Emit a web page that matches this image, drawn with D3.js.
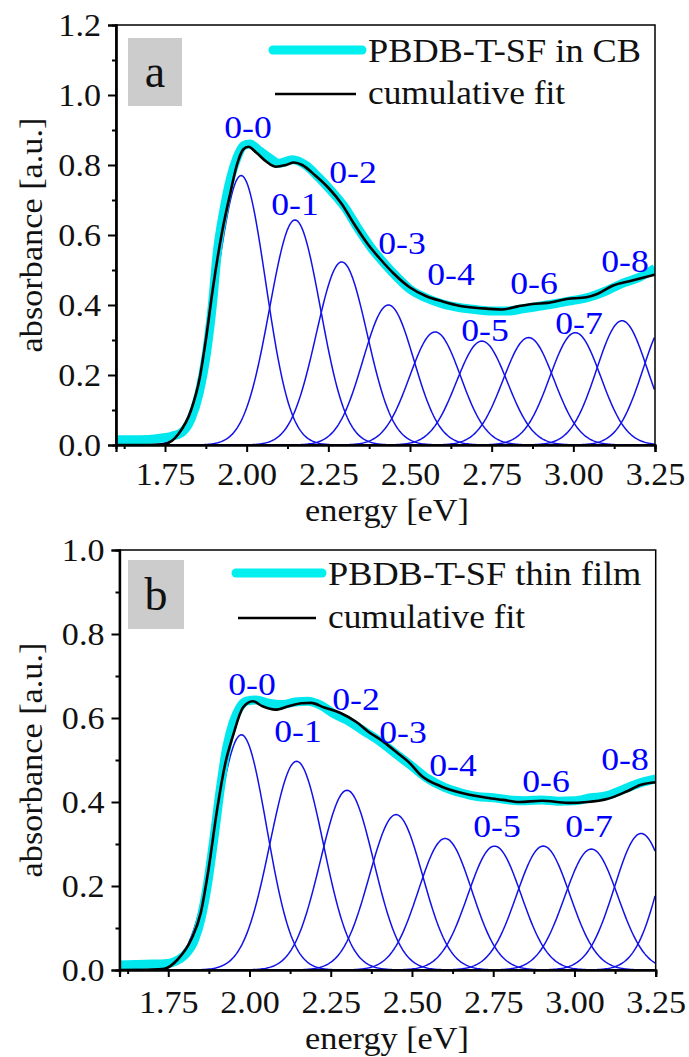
<!DOCTYPE html>
<html>
<head>
<meta charset="utf-8">
<script src="https://d3js.org/d3.v7.min.js"></script>
<style>
  body { margin: 0; background: #fff; }
</style>
</head>
<body>
<script>
// ---- data ----
var energyTicks = [1.75, 2.00, 2.25, 2.50, 2.75, 3.00, 3.25];
var energyMinor = [1.625, 1.875, 2.125, 2.375, 2.625, 2.875, 3.125];
var ticksA = [0, 0.2, 0.4, 0.6, 0.8, 1.0, 1.2];
var minorA = [0.1, 0.3, 0.5, 0.7, 0.9, 1.1];
var ticksB = [0, 0.2, 0.4, 0.6, 0.8, 1.0];
var minorB = [0.1, 0.3, 0.5, 0.7, 0.9];

// panel a: PBDB-T-SF in CB (energy, absorbance)
var cbData = [[1.60,.015],[1.65,.015],[1.70,.016],[1.74,.02],[1.77,.025],[1.80,.035],[1.83,.075],[1.855,.15],[1.875,.25],[1.895,.40],[1.91,.55],[1.93,.67],[1.95,.76],[1.97,.82],[1.99,.855],[2.01,.86],[2.04,.84],[2.07,.82],[2.10,.805],[2.14,.815],[2.18,.80],[2.22,.765],[2.26,.725],[2.30,.68],[2.34,.62],[2.38,.565],[2.42,.52],[2.46,.48],[2.50,.445],[2.55,.42],[2.60,.403],[2.65,.393],[2.70,.387],[2.75,.383],[2.80,.383],[2.85,.39],[2.90,.397],[2.95,.405],[3.00,.413],[3.05,.423],[3.10,.44],[3.15,.462],[3.20,.478],[3.25,.505]];
var cbFit = [[1.60,0],[1.70,0],[1.745,.002],[1.79,.03],[1.83,.10],[1.856,.19],[1.875,.30],[1.897,.45],[1.925,.61],[1.95,.72],[1.97,.80],[1.99,.845],[2.005,.852],[2.03,.835],[2.06,.81],[2.09,.795],[2.12,.80],[2.145,.807],[2.17,.80],[2.21,.77],[2.25,.735],[2.29,.69],[2.33,.63],[2.37,.575],[2.41,.53],[2.45,.49],[2.50,.45],[2.55,.425],[2.60,.41],[2.65,.398],[2.70,.392],[2.745,.389],[2.78,.387],[2.83,.396],[2.875,.403],[2.92,.406],[2.98,.417],[3.04,.422],[3.075,.432],[3.12,.455],[3.18,.47],[3.25,.487]];
// vibronic components a: centre [eV], height, width (sigma)
var cbCentre = [1.983, 2.148, 2.291, 2.434, 2.577, 2.720, 2.863, 3.006, 3.149, 3.292];
var cbHeight = [0.77, 0.643, 0.523, 0.40, 0.323, 0.297, 0.307, 0.321, 0.355, 0.36];
var cbSigma  = [0.075, 0.078, 0.078, 0.078, 0.078, 0.078, 0.078, 0.078, 0.078, 0.078];
var cbLabels = [["0-0",248,138],["0-1",295,215],["0-2",353,183],["0-3",402,254],["0-4",451,285],["0-5",485,341],["0-6",534,294],["0-7",579,334],["0-8",625,272]];

// panel b: PBDB-T-SF thin film
var filmData = [[1.60,.012],[1.65,.013],[1.70,.014],[1.74,.015],[1.77,.02],[1.80,.035],[1.83,.07],[1.85,.12],[1.87,.2],[1.89,.31],[1.91,.43],[1.93,.53],[1.95,.59],[1.97,.625],[1.99,.64],[2.02,.643],[2.06,.635],[2.10,.632],[2.14,.638],[2.18,.64],[2.22,.63],[2.26,.61],[2.30,.595],[2.35,.57],[2.40,.545],[2.45,.515],[2.50,.485],[2.55,.455],[2.60,.435],[2.65,.422],[2.70,.413],[2.75,.41],[2.80,.405],[2.85,.403],[2.90,.405],[2.95,.402],[3.00,.403],[3.05,.41],[3.10,.415],[3.15,.43],[3.20,.445],[3.25,.455]];
var filmFit = [[1.60,0],[1.70,.001],[1.738,.003],[1.779,.025],[1.821,.073],[1.85,.136],[1.874,.24],[1.90,.38],[1.925,.49],[1.95,.56],[1.98,.625],[2.01,.64],[2.04,.628],[2.08,.62],[2.12,.628],[2.16,.635],[2.19,.636],[2.23,.625],[2.28,.612],[2.33,.59],[2.37,.565],[2.41,.545],[2.45,.52],[2.49,.495],[2.53,.462],[2.59,.437],[2.66,.42],[2.73,.41],[2.78,.405],[2.83,.40],[2.90,.403],[2.98,.398],[3.04,.40],[3.10,.407],[3.16,.425],[3.205,.441],[3.25,.447]];
var filmCentre = [1.975, 2.145, 2.300, 2.451, 2.602, 2.754, 2.904, 3.052, 3.205, 3.356];
var filmHeight = [0.56, 0.497, 0.428, 0.37, 0.313, 0.295, 0.295, 0.288, 0.325, 0.42];
var filmSigma  = [0.078, 0.082, 0.082, 0.082, 0.082, 0.082, 0.082, 0.082, 0.082, 0.082];
var filmLabels = [["0-0",252,695],["0-1",298,742],["0-2",356,710],["0-3",403,743],["0-4",453,776],["0-5",497,837],["0-6",546,792],["0-7",589,837],["0-8",625,770]];

var FONT = "'Liberation Serif', serif";
var W = 689, H = 1057;
var svg = d3.select("body").append("svg").attr("width", W).attr("height", H);
svg.append("rect").attr("width", W).attr("height", H).attr("fill", "#fff");

// the original figure is a bit wider than plain Times, widen the text a bit
function stretch(sel, k) {
  sel.each(function() {
    var w = this.getComputedTextLength();
    d3.select(this).attr("textLength", w * k).attr("lengthAdjust", "spacingAndGlyphs");
  });
}

var panels = [
  {id: "a", top: 25, bottom: 445, left: 116, right: 655, ymax: 1.2, ticks: ticksA, minor: minorA,
   data: cbData, fit: cbFit, centre: cbCentre, height: cbHeight, sigma: cbSigma, labels: cbLabels,
   name: "PBDB-T-SF in CB", box: [128, 38, 54, 68], letterY: 87,
   leg: {x1: 273, x2: 362, y1: 50, y2: 94, tx: 368, t1: 62, t2: 104},
   tickY: 40, titleY: 521, titleX: 387},
  {id: "b", top: 550, bottom: 970, left: 119.5, right: 655.7, ymax: 1.0, ticks: ticksB, minor: minorB,
   data: filmData, fit: filmFit, centre: filmCentre, height: filmHeight, sigma: filmSigma, labels: filmLabels,
   name: "PBDB-T-SF thin film", box: [128, 560, 56, 69], letterY: 610,
   leg: {x1: 236, x2: 322, y1: 573, y2: 618, tx: 328, t1: 585, t2: 628},
   tickY: 43, titleY: 1049, titleX: 387}
];

panels.forEach(function(p) {
  var x = d3.scaleLinear().domain([1.6, 3.25]).range([p.left, p.right]);
  var y = d3.scaleLinear().domain([0, p.ymax]).range([p.bottom, p.top]);

  svg.append("clipPath").attr("id", "clip" + p.id)
     .append("rect").attr("x", p.left).attr("y", p.top)
     .attr("width", p.right - p.left).attr("height", p.bottom - p.top);

  var plot = svg.append("g").attr("clip-path", "url(#clip" + p.id + ")");

  // gaussian components
  var grid = d3.range(1.6, 3.2501, 0.004);
  var line = d3.line().x(function(d) { return x(d[0]); }).y(function(d) { return y(d[1]); });
  p.centre.forEach(function(c, i) {
    var pts = grid.map(function(e) {
      var z = (e - c) / p.sigma[i];
      return [e, p.height[i] * Math.exp(-0.5 * z * z)];
    });
    plot.append("path").attr("d", line(pts)).attr("fill", "none")
        .attr("stroke", "#1212e8").attr("stroke-width", 1.5);
  });

  var smooth = d3.line().curve(d3.curveMonotoneX)
                 .x(function(d) { return x(d[0]); }).y(function(d) { return y(d[1]); });
  plot.append("path").attr("d", smooth(p.data)).attr("fill", "none")
      .attr("stroke", "#00e8ee").attr("stroke-width", 9).attr("stroke-linejoin", "round");
  plot.append("path").attr("d", smooth(p.fit)).attr("fill", "none")
      .attr("stroke", "#000").attr("stroke-width", 2.6).attr("stroke-linejoin", "round");

  // peak labels
  var labs = svg.selectAll("text.lab" + p.id).data(p.labels).join("text")
     .attr("class", "lab" + p.id)
     .attr("x", function(d) { return d[1]; }).attr("y", function(d) { return d[2]; })
     .attr("text-anchor", "middle").attr("fill", "#0000ff")
     .attr("font-family", FONT).attr("font-size", 31).text(function(d) { return d[0]; });
  stretch(labs, 1.15);

  // frame
  svg.append("rect").attr("x", p.left).attr("y", p.top)
     .attr("width", p.right - p.left).attr("height", p.bottom - p.top)
     .attr("fill", "none").attr("stroke", "#000").attr("stroke-width", 1.5);

  // axes
  var gx = svg.append("g").attr("transform", "translate(0," + p.bottom + ")")
    .call(d3.axisBottom(x).tickValues(energyTicks).tickSize(7).tickFormat(d3.format(".2f")));
  svg.append("g").attr("transform", "translate(0," + p.bottom + ")")
    .call(d3.axisBottom(x).tickValues(energyMinor).tickSize(4).tickFormat(""));
  var gy = svg.append("g").attr("transform", "translate(" + p.left + ",0)")
    .call(d3.axisLeft(y).tickValues(p.ticks).tickSize(8).tickFormat(d3.format(".1f")));
  svg.append("g").attr("transform", "translate(" + p.left + ",0)")
    .call(d3.axisLeft(y).tickValues(p.minor).tickSize(4).tickFormat(""));

  svg.selectAll(".domain").attr("stroke-width", 2.2);
  svg.selectAll(".tick line").attr("stroke-width", 2);
  gx.attr("font-family", FONT).attr("font-size", 31);
  gy.attr("font-family", FONT).attr("font-size", 31);
  gx.selectAll("text").attr("y", p.tickY).attr("dy", 0).attr("fill", "#111");
  gy.selectAll("text").attr("x", -15).attr("dy", "0.34em").attr("fill", "#111");
  stretch(gx.selectAll("text"), 1.1);
  stretch(gy.selectAll("text"), 1.1);

  // axis titles
  var tx = svg.append("text").attr("x", p.titleX).attr("y", p.titleY).attr("text-anchor", "middle")
     .attr("font-family", FONT).attr("font-size", 32).attr("fill", "#111").text("energy [eV]");
  var ty = svg.append("text")
     .attr("transform", "translate(42," + ((p.top + p.bottom) / 2) + ") rotate(-90)")
     .attr("text-anchor", "middle").attr("font-family", FONT).attr("font-size", 32).attr("fill", "#111")
     .text("absorbance [a.u.]");
  stretch(tx, 1.07);
  stretch(ty, 1.07);

  // panel letter
  svg.append("rect").attr("x", p.box[0]).attr("y", p.box[1]).attr("width", p.box[2]).attr("height", p.box[3])
     .attr("fill", "#cccccc");
  svg.append("text").attr("x", p.box[0] + p.box[2] / 2).attr("y", p.letterY).attr("text-anchor", "middle")
     .attr("font-family", FONT).attr("font-size", 46).attr("fill", "#111").text(p.id);

  // legend
  var L = p.leg;
  svg.append("line").attr("x1", L.x1).attr("x2", L.x2).attr("y1", L.y1).attr("y2", L.y1)
     .attr("stroke", "#00f0f0").attr("stroke-width", 9).attr("stroke-linecap", "round");
  svg.append("line").attr("x1", L.x1 + 2).attr("x2", L.x2 - 6).attr("y1", L.y2).attr("y2", L.y2)
     .attr("stroke", "#000").attr("stroke-width", 2.6);
  var l1 = svg.append("text").attr("x", L.tx).attr("y", L.t1).attr("font-family", FONT).attr("font-size", 33)
     .attr("fill", "#111").text(p.name);
  var l2 = svg.append("text").attr("x", L.tx).attr("y", L.t2).attr("font-family", FONT).attr("font-size", 33)
     .attr("fill", "#111").text("cumulative fit");
  stretch(l1, 1.1);
  stretch(l2, 1.07);
});
</script>
</body>
</html>
